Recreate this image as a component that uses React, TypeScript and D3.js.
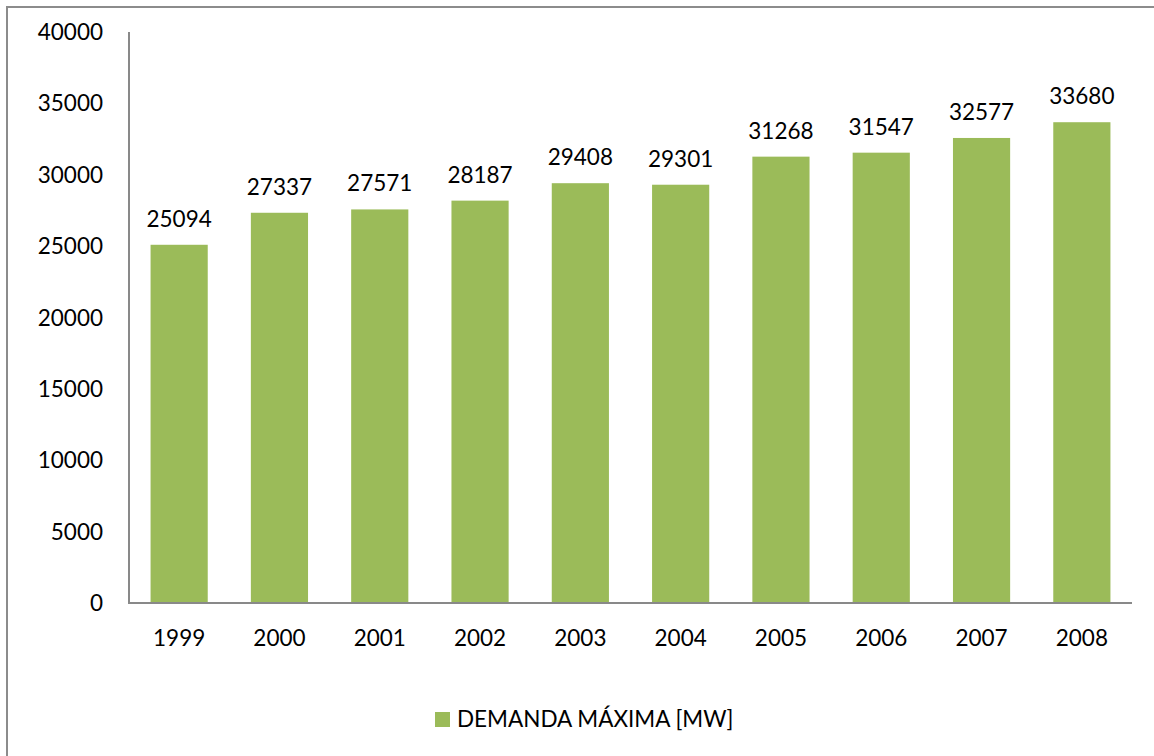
import React from 'react'
import * as d3 from 'd3'

const years = ['1999', '2000', '2001', '2002', '2003', '2004', '2005', '2006', '2007', '2008']
const demand = [25094, 27337, 27571, 28187, 29408, 29301, 31268, 31547, 32577, 33680]
const yTicks = [0, 5000, 10000, 15000, 20000, 25000, 30000, 35000, 40000]
const seriesName = 'DEMANDA MÁXIMA [MW]'

const W = 1154
const H = 756
const barColor = '#9BBB59'
const axisColor = '#898989'
const font = 'Lato, "Open Sans", sans-serif'

const App = () => {
  const svgRef = React.useRef<SVGSVGElement>(null)

  React.useEffect(() => {
    const svg = d3.select(svgRef.current)
    svg.selectAll('*').remove()

    const left = 129
    const right = 1132
    const top = 32
    const bottom = 603

    const x = d3.scaleBand().domain(years).range([left, right]).paddingInner(0.43).paddingOuter(0.215)
    const y = d3.scaleLinear().domain([0, 40000]).range([bottom, top])

    svg.append('rect')
      .attr('width', W)
      .attr('height', H)
      .attr('fill', '#fff')

    // outer chart border (runs off the right/bottom of the picture)
    svg.append('rect')
      .attr('x', 7)
      .attr('y', 7)
      .attr('width', W + 20)
      .attr('height', H + 20)
      .attr('fill', 'none')
      .attr('stroke', '#8c8c8c')
      .attr('stroke-width', 2)

    svg.append('g')
      .selectAll('rect')
      .data(demand)
      .join('rect')
      .attr('x', (_, i) => x(years[i]) as number)
      .attr('y', (d) => y(d))
      .attr('width', x.bandwidth())
      .attr('height', (d) => y(0) - y(d))
      .attr('fill', barColor)

    svg.append('g')
      .style('font', `22.5px ${font}`)
      .attr('text-anchor', 'middle')
      .selectAll('text')
      .data(demand)
      .join('text')
      .attr('x', (_, i) => (x(years[i]) as number) + x.bandwidth() / 2)
      .attr('y', (d) => y(d) - 18)
      .attr('fill', '#000')
      .text((d) => d)

    // y axis
    svg.append('line')
      .attr('x1', left).attr('x2', left)
      .attr('y1', top).attr('y2', bottom)
      .attr('stroke', axisColor)
      .attr('stroke-width', 2)

    svg.append('g')
      .style('font', `22.5px ${font}`)
      .attr('text-anchor', 'end')
      .selectAll('text')
      .data(yTicks)
      .join('text')
      .attr('x', 103)
      .attr('y', (d) => y(d))
      .attr('dy', '0.36em')
      .attr('fill', '#000')
      .text((d) => d)

    // x axis
    svg.append('line')
      .attr('x1', left - 1).attr('x2', right)
      .attr('y1', bottom).attr('y2', bottom)
      .attr('stroke', axisColor)
      .attr('stroke-width', 2)

    svg.append('g')
      .style('font', `22.5px ${font}`)
      .attr('text-anchor', 'middle')
      .selectAll('text')
      .data(years)
      .join('text')
      .attr('x', (d) => (x(d) as number) + x.bandwidth() / 2)
      .attr('y', 646)
      .attr('fill', '#000')
      .text((d) => d)

    // legend
    const legend = svg.append('g')
    legend.append('rect')
      .attr('x', 435)
      .attr('y', 712)
      .attr('width', 15)
      .attr('height', 15)
      .attr('fill', barColor)
    legend.append('text')
      .attr('x', 457)
      .attr('y', 727)
      .style('font', `22.5px ${font}`)
      .attr('fill', '#000')
      .text(seriesName)
  }, [])

  return (
    <svg
      ref={svgRef}
      width={W}
      height={H}
      style={{ position: 'absolute', left: 0, top: 0, display: 'block' }}
    />
  )
}

export default App
